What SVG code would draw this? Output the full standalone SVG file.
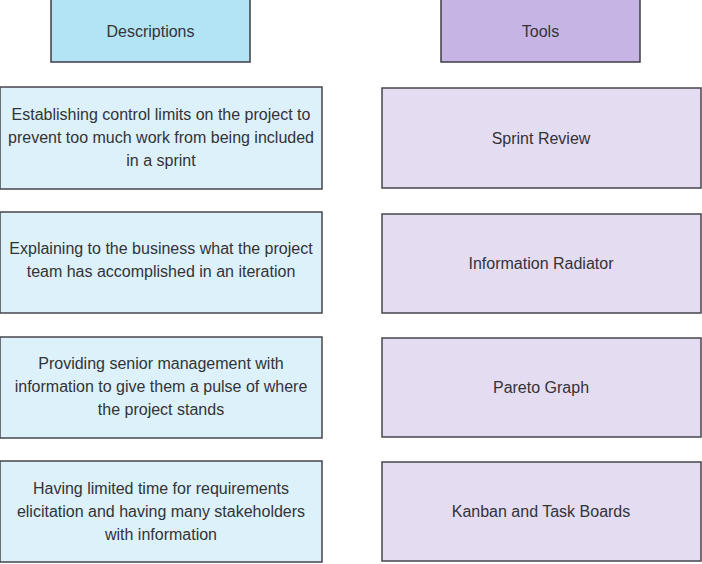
<svg xmlns="http://www.w3.org/2000/svg" width="702" height="564" viewBox="0 0 702 564">
<style>
.hd{stroke:#3c3c44;stroke-width:1.5}
.bx{stroke:#46464c;stroke-width:1.5}
.dh{fill:#b3e4f5}
.th{fill:#c6b5e4}
.d{fill:#dcf1fa}
.t{fill:#e4dcf1}
text{font-family:"Liberation Sans",Arial,sans-serif;font-size:16px;fill:#333338;text-anchor:middle}
</style>
<rect width="702" height="564" fill="#ffffff"/>
<g id="hdr-desc"><rect class="hd dh" x="51" y="-1" width="199" height="63"/><text x="150.5" y="37">Descriptions</text></g>
<g id="hdr-tools"><rect class="hd th" x="441" y="-1" width="199" height="63"/><text x="540.5" y="37">Tools</text></g>
<g id="desc1"><rect class="bx d" x="0" y="87" width="322" height="102"/><text x="161" y="120">Establishing control limits on the project to</text><text x="161" y="143">prevent too much work from being included</text><text x="161" y="166">in a sprint</text></g>
<g id="desc2"><rect class="bx d" x="0" y="212" width="322" height="101"/><text x="161" y="254">Explaining to the business what the project</text><text x="161" y="277">team has accomplished in an iteration</text></g>
<g id="desc3"><rect class="bx d" x="0" y="337" width="322" height="101"/><text x="161" y="369">Providing senior management with</text><text x="161" y="392">information to give them a pulse of where</text><text x="161" y="415">the project stands</text></g>
<g id="desc4"><rect class="bx d" x="0" y="461" width="322" height="101"/><text x="161" y="494">Having limited time for requirements</text><text x="161" y="517">elicitation and having many stakeholders</text><text x="161" y="540">with information</text></g>
<g id="tool1"><rect class="bx t" x="382" y="88" width="319" height="100"/><text x="541" y="144">Sprint Review</text></g>
<g id="tool2"><rect class="bx t" x="382" y="214" width="319" height="99"/><text x="541" y="269">Information Radiator</text></g>
<g id="tool3"><rect class="bx t" x="382" y="338" width="319" height="99"/><text x="541" y="393">Pareto Graph</text></g>
<g id="tool4"><rect class="bx t" x="382" y="462" width="319" height="99"/><text x="541" y="517">Kanban and Task Boards</text></g>
<g id="connectors"></g>
</svg>
